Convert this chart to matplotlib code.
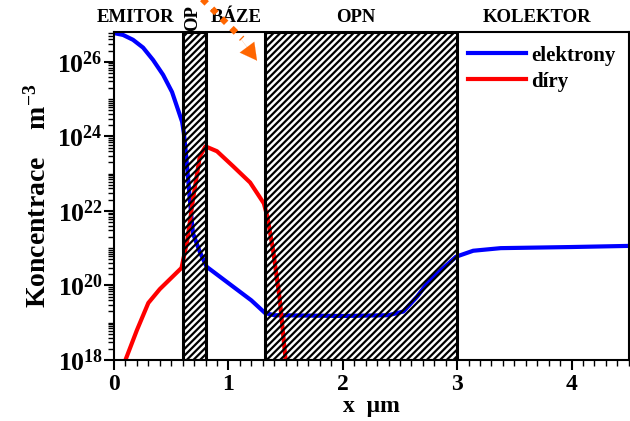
import matplotlib
matplotlib.use("Agg")
import matplotlib.pyplot as plt
from matplotlib.ticker import LogLocator, MultipleLocator, NullFormatter, FuncFormatter
import numpy as np

plt.rcParams["font.family"] = ["Liberation Serif", "DejaVu Serif"]
plt.rcParams["font.weight"] = "bold"
plt.rcParams["mathtext.fontset"] = "custom"
plt.rcParams["mathtext.rm"] = "Liberation Serif:bold"
plt.rcParams["mathtext.it"] = "Liberation Serif:bold"
plt.rcParams["mathtext.bf"] = "Liberation Serif:bold"
plt.rcParams["hatch.linewidth"] = 1.6

# electron concentration (log10 m^-3) vs x (um)
x_el = [0.0, 0.079, 0.166, 0.254, 0.341, 0.429, 0.507, 0.56, 0.595, 0.61,
        0.63, 0.66, 0.69, 0.75, 0.81, 1.2, 1.32, 1.4, 2.0, 2.4, 2.53, 2.65,
        2.76, 2.91, 2.99, 3.14, 3.38, 4.0, 4.5]
log_el = [26.77, 26.72, 26.59, 26.38, 26.05, 25.65, 25.19, 24.71, 24.39,
          24.1, 23.5, 22.4, 21.4, 20.9, 20.5, 19.6, 19.26, 19.2, 19.18,
          19.2, 19.3, 19.7, 20.15, 20.55, 20.77, 20.93, 21.0, 21.03, 21.06]

# hole concentration
x_h = [0.1, 0.2, 0.3, 0.4, 0.59, 0.64, 0.69, 0.75, 0.8, 0.9, 1.04, 1.19,
       1.31, 1.34, 1.39, 1.45, 1.5]
log_h = [18.0, 18.8, 19.53, 19.9, 20.47, 21.2, 22.3, 23.46, 23.73, 23.6,
         23.2, 22.76, 22.2, 21.85, 20.96, 19.6, 18.0]

# hatched depletion regions (um)
regions = [(0.6, 0.8), (1.32, 3.0)]

zone_names = ["EMITOR", "OP", "BÁZE", "OPN", "KOLEKTOR"]
zone_x = [0.19, 0.685, 1.07, 2.11, 3.70]

fig = plt.figure(figsize=(6.3, 4.21), dpi=100)
ax = fig.add_axes([0.181, 0.145, 0.817, 0.779])

ax.plot(x_el, 10.0 ** np.array(log_el), color="#0000ff", lw=3, label="elektrony", zorder=2)
ax.plot(x_h, 10.0 ** np.array(log_h), color="#ff0000", lw=3, label="díry", zorder=2)

for a, b in regions:
    ax.axvspan(a, b, facecolor="none", edgecolor="black", hatch="/////",
               lw=2.2, zorder=3)

ax.set_yscale("log")
ax.set_xlim(0, 4.5)
ax.set_ylim(1e18, 6.3e26)

ax.yaxis.set_major_locator(LogLocator(base=100.0))
ax.yaxis.set_minor_locator(LogLocator(base=10.0, subs=np.arange(1, 10), numticks=30))
ax.yaxis.set_minor_formatter(NullFormatter())
ax.yaxis.set_major_formatter(FuncFormatter(lambda v, p: r"10$^{%d}$" % round(np.log10(v))))
ax.xaxis.set_major_locator(MultipleLocator(1))
ax.xaxis.set_minor_locator(MultipleLocator(0.1))

ax.tick_params(which="major", direction="out", length=7, width=1.5)
ax.tick_params(which="minor", direction="out", length=4, width=1.0)
ax.tick_params(axis="y", labelsize=18.5, pad=1)
ax.tick_params(axis="x", labelsize=17, pad=3)
for s in ax.spines.values():
    s.set_linewidth(1.5)

ax.set_ylabel("Koncentrace    m$^{-3}$", fontsize=20, fontweight="bold", labelpad=4)
ax.set_xlabel("x  μm", fontsize=17, fontweight="bold", labelpad=1)

trans = matplotlib.transforms.blended_transform_factory(ax.transData, fig.transFigure)
for name, xc in zip(zone_names, zone_x):
    rot = 90 if name == "OP" else 0
    ax.text(xc, 0.958, name, transform=trans, ha="center", va="center",
            fontsize=13.5, fontweight="bold", rotation=rot)

# orange dotted arrow
ax.plot([0.75, 1.12], [10 ** 27.75, 10 ** 26.62], color="#ff6600", lw=4.5,
        ls=(0, (1, 1.2)), clip_on=False, zorder=5)
ax.annotate("", xy=(1.265, 10 ** 25.97), xytext=(1.1, 10 ** 26.65),
            arrowprops=dict(arrowstyle="-|>,head_length=1.2,head_width=0.65",
                            color="#ff6600", lw=0.1),
            annotation_clip=False, zorder=5)

leg = ax.legend(loc="upper right", frameon=False, fontsize=15,
                handlelength=2.75, borderaxespad=0.25, labelspacing=0.3,
                handletextpad=0.25)

fig.savefig("out.png", dpi=100)
